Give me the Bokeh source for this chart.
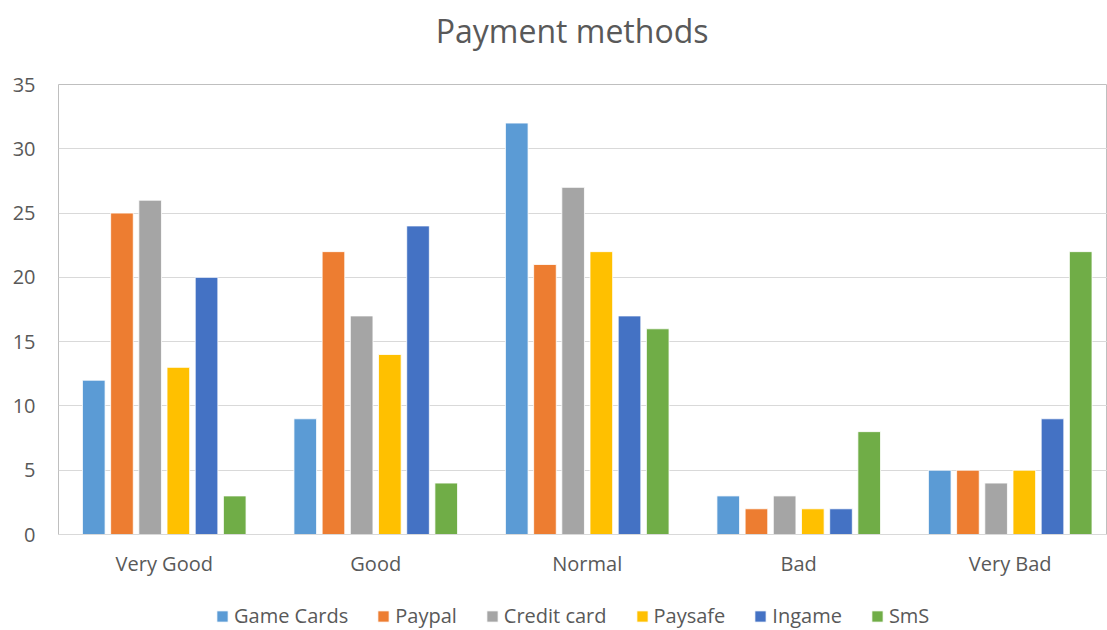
import numpy as np
from bokeh.plotting import figure
from bokeh.layouts import column
from bokeh.models import Range1d, FixedTicker, Legend, LegendItem, ColumnDataSource, Label
from bokeh.embed import file_html
from bokeh.resources import INLINE

# Survey ratings per payment method
categories = ["Very Good", "Good", "Normal", "Bad", "Very Bad"]
series = ["Game Cards", "Paypal", "Credit card", "Paysafe", "Ingame", "SmS"]
game_cards = [12, 9, 32, 3, 5]
paypal = [25, 22, 21, 2, 5]
credit_card = [26, 17, 27, 3, 4]
paysafe = [13, 14, 22, 2, 5]
ingame = [20, 24, 17, 2, 9]
sms = [3, 4, 16, 8, 22]
y_ticks = [0, 5, 10, 15, 20, 25, 30, 35]

values = [game_cards, paypal, credit_card, paysafe, ingame, sms]
colors = ["#5B9BD5", "#ED7D31", "#A5A5A5", "#FFC000", "#4472C4", "#70AD47"]

FONT = "Open Sans"
TEXT = "#595959"
W = 1107


def strip(height):
    """A bare figure used as a band for a heading or a legend."""
    f = figure(width=W, height=height, output_backend="svg", toolbar_location=None,
               x_range=Range1d(0, W), y_range=Range1d(0, height))
    f.min_border = 0
    f.axis.visible = False
    f.grid.visible = False
    f.outline_line_color = None
    f.border_fill_color = "white"
    f.background_fill_color = "white"
    return f


# ---- heading band ----
head = strip(70)
head.add_layout(Label(x=542, y=40, text="Payment methods", text_align="center",
                      text_baseline="middle", text_font=FONT, text_font_size="32px",
                      text_color=TEXT))

# ---- main chart ----
p = figure(width=W, height=510, output_backend="svg", toolbar_location=None,
           x_range=Range1d(0, 4.96), y_range=Range1d(0, 35))
p.min_border = 0
p.min_border_left = 58
p.min_border_right = 0
p.min_border_top = 14
p.min_border_bottom = 46
p.outline_line_color = "#BFBFBF"
p.background_fill_color = "white"
p.border_fill_color = "white"

centers = np.arange(len(categories)) + 0.5
step = 0.1333
bar_w = 0.107

sources = []
for j, (vals, col) in enumerate(zip(values, colors)):
    src = ColumnDataSource(dict(x=centers + (j - 2.5) * step, top=vals))
    p.vbar(x="x", top="top", width=bar_w, source=src, fill_color=col,
           line_color="white", line_width=0.8)
    sources.append(src)

p.xgrid.grid_line_color = None
p.ygrid.grid_line_color = "#D9D9D9"
p.ygrid.grid_line_width = 1.2

p.yaxis.ticker = FixedTicker(ticks=y_ticks)
p.yaxis.axis_line_color = None
p.yaxis.major_tick_line_color = None
p.yaxis.minor_tick_line_color = None
p.yaxis.major_label_standoff = 17
p.yaxis.major_label_text_font = FONT
p.yaxis.major_label_text_font_size = "20px"
p.yaxis.major_label_text_color = TEXT

p.xaxis.ticker = FixedTicker(ticks=list(centers))
p.xaxis.major_label_overrides = {float(c): cat for c, cat in zip(centers, categories)}
p.xaxis.axis_line_color = "#D9D9D9"
p.xaxis.axis_line_width = 1.2
p.xaxis.major_tick_line_color = None
p.xaxis.minor_tick_line_color = None
p.xaxis.major_label_standoff = 9
p.xaxis.major_label_text_font = FONT
p.xaxis.major_label_text_font_size = "20px"
p.xaxis.major_label_text_color = TEXT

# ---- legend band: keys share the bar sources, only the swatches are shown ----
leg = strip(50)
items = []
for name, col, src in zip(series, colors, sources):
    r = leg.vbar(x="x", top="top", width=bar_w, source=src, fill_color=col,
                 line_color="white", line_width=0.8, visible=False)
    items.append(LegendItem(label=name, renderers=[r]))

legend = Legend(items=items, orientation="horizontal", location=(157, 1),
                glyph_width=14, glyph_height=14, label_standoff=5, spacing=28,
                border_line_color=None, background_fill_alpha=0,
                inactive_fill_alpha=0,
                label_text_font=FONT, label_text_font_size="20px",
                label_text_color=TEXT, margin=0, padding=0)
leg.add_layout(legend)

layout = column(head, p, leg, spacing=0)
open("out.html", "w").write(file_html(layout, INLINE))
